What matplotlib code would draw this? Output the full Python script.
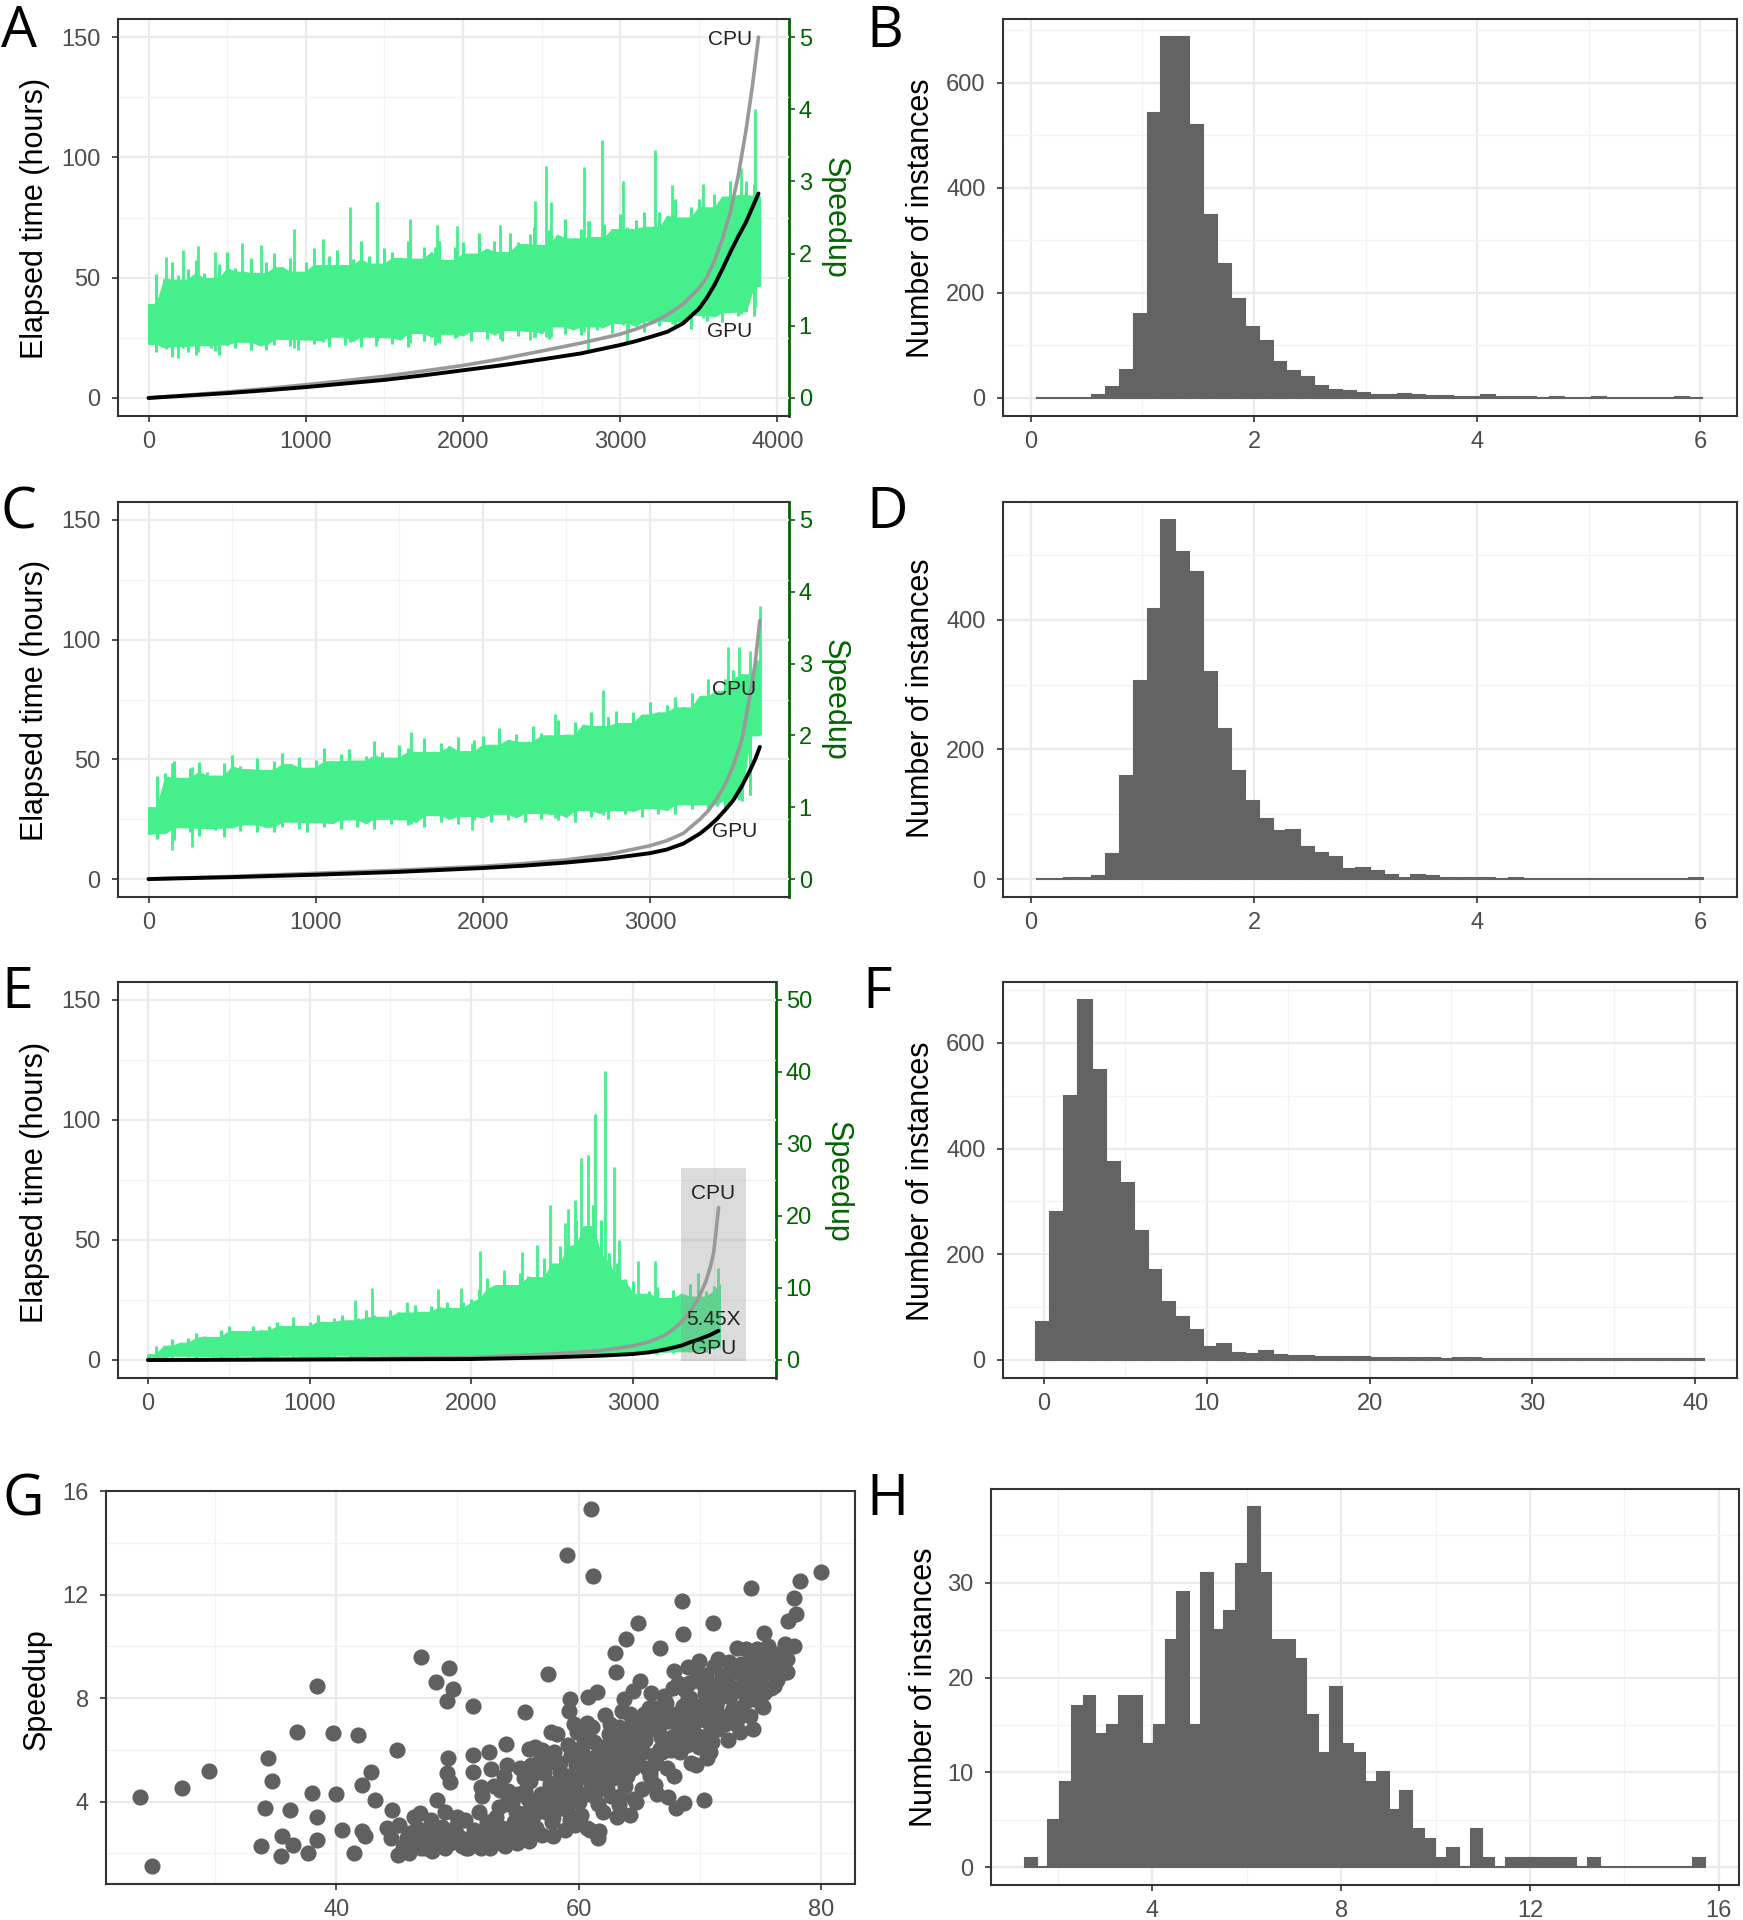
import numpy as np
import matplotlib
matplotlib.use("Agg")
import matplotlib.pyplot as plt
from matplotlib.ticker import MultipleLocator

plt.rcParams['font.family'] = ['Liberation Sans', 'DejaVu Sans']

# ---------------- panel A (elapsed time + speedup) ----------------
a_idx = [0, 250, 500, 750, 1000, 1250, 1500, 1750, 2000, 2250, 2500, 2750, 3000, 3100, 3200, 3300,
         3400, 3500, 3550, 3600, 3650, 3700, 3750, 3800, 3840, 3880]
a_gpu = [0, 1.0, 2.0, 3.2, 4.5, 6.0, 7.5, 9.4, 11.5, 13.6, 16.0, 18.5, 22.0, 23.6, 25.5, 27.5,
         31.0, 37.0, 41.5, 47.0, 53.5, 60.5, 67.0, 73.0, 79.0, 85.0]
a_cpu = [0, 1.2, 2.5, 3.9, 5.5, 7.2, 9.0, 11.2, 13.5, 16.3, 19.5, 22.8, 26.5, 28.6, 31.2, 34.5,
         39.0, 45.5, 50.0, 57.0, 66.0, 77.0, 92.0, 111.0, 129.0, 150.0]

# speedup trace, read every 50 instances: upper and lower reach of the noisy line
a_band_x = list(range(0, 3900, 50)) + [3880]
a_band_hi = [1.30, 1.72, 1.65, 1.89, 1.64, 1.78, 1.91, 1.73, 1.66, 1.86, 2.02, 1.80, 1.75, 1.94, 1.73, 1.88,
             2.01, 1.81, 1.94, 1.75, 1.89, 2.08, 1.84, 1.96, 2.05, 1.84, 1.92, 2.18, 1.96, 1.86, 2.08, 2.02,
             1.94, 2.17, 1.93, 2.09, 2.02, 2.18, 1.91, 2.09, 2.16, 2.00, 2.28, 2.07, 2.17, 2.02, 2.29, 2.16,
             2.13, 2.37, 2.12, 2.32, 2.26, 2.48, 2.21, 2.34, 2.45, 2.23, 2.41, 2.34, 2.55, 2.34, 2.46, 2.57,
             2.37, 2.58, 2.52, 2.75, 2.50, 2.65, 2.76, 2.64, 2.82, 2.79, 3.01, 2.81, 3.00, 2.97, 2.80]
a_band_lo = [0.75, 0.64, 0.70, 0.57, 0.72, 0.64, 0.60, 0.73, 0.69, 0.59, 0.74, 0.69, 0.78, 0.67, 0.74, 0.66,
             0.74, 0.82, 0.72, 0.66, 0.81, 0.75, 0.80, 0.71, 0.85, 0.74, 0.79, 0.71, 0.85, 0.78, 0.84, 0.75,
             0.81, 0.71, 0.90, 0.79, 0.85, 0.76, 0.89, 0.83, 0.87, 0.79, 0.93, 0.82, 0.88, 0.79, 0.94, 0.86,
             0.93, 0.84, 0.90, 0.81, 0.99, 0.89, 0.95, 0.87, 0.99, 0.94, 0.99, 0.90, 1.04, 0.94, 1.00, 0.92,
             1.07, 1.00, 1.07, 0.99, 1.05, 0.96, 1.15, 1.06, 1.13, 1.05, 1.19, 1.14, 1.20, 1.13, 1.55]
a_up_x = [109, 221, 313, 422, 594, 713, 924, 1111, 1279, 1452, 1663, 1838, 1965, 2236, 2457,
          2531, 2559, 2770, 2882, 3016, 3220, 3332, 3525, 3771, 3859]
a_up_y = [1.95, 2.05, 2.10, 2.02, 2.15, 2.12, 2.34, 2.20, 2.65, 2.71, 2.48, 2.40, 2.38, 2.40, 2.73,
          3.22, 2.71, 3.20, 3.57, 3.01, 3.43, 2.95, 2.96, 3.18, 4.01]
a_dn_x = [186, 1445, 1821, 2429, 2798, 3044]
a_dn_y = [0.55, 0.72, 0.74, 0.80, 0.62, 0.76]

# ---------------- panel C ----------------
c_idx = [0, 500, 1000, 1500, 2000, 2250, 2500, 2750, 3000, 3100, 3200, 3300, 3350, 3400, 3450,
         3500, 3550, 3600, 3630, 3658]
c_gpu = [0, 0.8, 1.8, 3.0, 4.6, 5.6, 6.9, 8.5, 10.8, 12.3, 14.8, 19.0, 21.8, 25.0, 28.8,
         33.0, 38.8, 45.5, 50.0, 55.2]
c_cpu = [0, 1.1, 2.4, 3.7, 5.3, 6.5, 8.0, 10.3, 13.9, 16.0, 19.1, 25.0, 28.6, 33.5, 39.5,
         47.5, 58.0, 77.0, 90.0, 108.0]

c_band_x = list(range(0, 3700, 50))
c_band_hi = [1.00, 1.43, 1.47, 1.64, 1.41, 1.54, 1.63, 1.49, 1.44, 1.61, 1.73, 1.57, 1.53, 1.69, 1.52, 1.65,
             1.75, 1.60, 1.70, 1.55, 1.66, 1.82, 1.64, 1.74, 1.81, 1.65, 1.72, 1.92, 1.77, 1.69, 1.87, 1.82,
             1.77, 1.96, 1.77, 1.90, 1.85, 1.98, 1.78, 1.93, 1.99, 1.87, 2.10, 1.94, 2.02, 1.91, 2.13, 2.04,
             2.00, 2.21, 2.01, 2.18, 2.15, 2.33, 2.13, 2.25, 2.34, 2.17, 2.33, 2.29, 2.46, 2.32, 2.43, 2.54,
             2.39, 2.59, 2.55, 2.78, 2.62, 2.79, 2.91, 2.85, 3.04, 3.05]
c_band_lo = [0.63, 0.56, 0.64, 0.55, 0.72, 0.65, 0.60, 0.71, 0.68, 0.59, 0.72, 0.67, 0.76, 0.66, 0.73, 0.65,
             0.72, 0.80, 0.70, 0.66, 0.79, 0.73, 0.78, 0.70, 0.83, 0.73, 0.78, 0.70, 0.84, 0.76, 0.83, 0.75,
             0.80, 0.72, 0.89, 0.79, 0.84, 0.76, 0.88, 0.82, 0.86, 0.79, 0.91, 0.82, 0.86, 0.79, 0.92, 0.84,
             0.91, 0.82, 0.87, 0.80, 0.96, 0.86, 0.92, 0.84, 0.96, 0.90, 0.95, 0.87, 0.99, 0.90, 0.96, 0.90,
             1.04, 0.97, 1.04, 0.98, 1.04, 0.99, 1.12, 1.09, 1.17, 2.00]
c_up_x = [1571, 2435, 2718, 3465, 3532, 3598, 3658]
c_up_y = [2.05, 2.30, 2.63, 3.23, 3.23, 3.18, 3.80]
c_dn_x = [143, 259, 1937, 2751, 3399]
c_dn_y = [0.41, 0.45, 0.68, 0.90, 1.02]

# ---------------- panel E ----------------
e_idx = [0, 1000, 2000, 2500, 2800, 3000, 3100, 3200, 3250, 3300, 3350, 3400, 3450, 3480, 3500, 3530]
e_gpu = [0, 0.2, 0.4, 1.1, 1.8, 2.5, 3.2, 4.4, 5.2, 6.0, 7.3, 8.4, 9.7, 10.5, 11.2, 12.2]
e_cpu = [0, 0.4, 1.1, 2.5, 3.9, 5.9, 7.6, 10.4, 12.8, 15.8, 19.8, 25.0, 32.5, 39.0, 45.0, 63.5]

e_band_x = list(range(0, 3550, 50)) + [3530]
e_band_hi = [0.8, 2.0, 2.0, 2.9, 2.4, 3.1, 3.8, 3.3, 3.2, 4.1, 4.7, 4.0, 4.0, 4.7, 4.1, 4.7,
             5.3, 4.7, 5.3, 4.7, 5.3, 6.2, 5.3, 5.9, 6.3, 5.5, 5.9, 7.0, 6.3, 6.0, 6.9, 6.7,
             6.6, 7.6, 6.7, 7.5, 7.3, 8.1, 7.2, 8.0, 8.5, 9.9, 11.4, 10.4, 11.2, 10.4, 12.1, 11.6,
             11.5, 14.2, 13.4, 15.8, 16.0, 19.5, 18.6, 21.5, 19.5, 14.8, 13.5, 11.3, 11.0, 9.2, 9.6, 10.1,
             8.6, 9.7, 9.2, 10.5, 8.8, 9.6, 10.3, 10.5]
e_band_lo = [0.0, 0.3, 0.4, 0.3, 0.6, 0.4, 0.25, 0.55, 0.45, 0.2, 0.5, 0.35, 0.6, 0.3, 0.48, 0.25,
             0.44, 0.62, 0.36, 0.24, 0.58, 0.43, 0.54, 0.34, 0.63, 0.40, 0.51, 0.31, 0.63, 0.45, 0.60, 0.40,
             0.52, 0.29, 0.70, 0.46, 0.59, 0.38, 0.66, 0.52, 0.63, 0.44, 0.73, 0.50, 0.63, 0.42, 0.75, 0.58,
             0.73, 0.52, 0.67, 0.44, 0.85, 0.62, 0.75, 0.54, 0.85, 0.72, 0.84, 0.67, 0.98, 0.80, 0.96, 0.80,
             1.16, 1.03, 1.22, 1.05, 1.24, 1.07, 1.50, 1.80]
e_up_x = [900, 1282, 1385, 1600, 1797, 1935, 2055, 2200, 2313, 2409, 2485, 2580, 2600, 2639, 2680, 2725,
          2766, 2828, 2880, 2914, 3034, 3137, 3405, 3526]
e_up_y = [6.0, 8.4, 10.0, 8.0, 9.8, 10.0, 15.1, 12.5, 15.0, 16.0, 21.5, 19.0, 21.0, 22.2, 28.0, 28.5,
          34.2, 40.2, 26.8, 16.7, 13.7, 13.7, 12.1, 12.8]

# ---------------- histograms B, D, F, H ----------------
b_counts = [0, 0, 0, 0, 5, 21, 54, 159, 542, 687, 687, 520, 349, 255, 188, 135, 109, 69, 51, 40,
            22, 15, 13, 10, 6, 5, 8, 5, 4, 4, 2, 2, 5, 1, 1, 1, 0, 1, 0, 0,
            1, 0, 0, 0, 0, 0, 1, 0]
d_counts = [0, 0, 2, 2, 4, 39, 159, 306, 417, 554, 504, 473, 319, 231, 166, 121, 92, 74, 76, 50,
            40, 34, 15, 17, 12, 7, 2, 6, 4, 1, 2, 1, 1, 0, 1, 0, 0, 0, 0, 0,
            0, 0, 0, 0, 0, 0, 0, 1]
f_counts = [71, 280, 499, 681, 549, 375, 334, 244, 171, 110, 82, 57, 24, 30, 13, 11, 17, 9, 8, 8,
            5, 5, 6, 5, 3, 3, 3, 4, 3, 2, 3, 3, 2, 2, 2, 2, 2, 1, 1, 2,
            1, 1, 2, 1, 2, 1, 1, 2]
h_counts = [1, 0, 5, 9, 17, 18, 14, 15, 18, 18, 13, 15, 24, 29, 15, 31, 25, 27, 32, 38,
            31, 24, 24, 22, 16, 12, 19, 13, 12, 9, 10, 6, 8, 4, 3, 1, 2, 0, 4, 1,
            0, 1, 1, 1, 1, 1, 1, 0, 1, 0, 0, 0, 0, 0, 0, 0, 0, 1]
b_start, b_width = 0.05, 0.1245
f_start, f_width = -0.47, 0.854
h_start, h_width = 1.30, 0.2485

# ---------------- scatter G ----------------
g_x = [23.8, 24.8, 27.3, 29.5, 34.4, 34.7, 34.1, 33.8, 35.5, 35.4,
       36.2, 36.4, 36.8, 38.0, 38.4, 38.4, 38.4, 37.7, 39.7, 40.0,
       40.5, 41.5, 41.8, 42.1, 42.9, 43.2, 42.1, 42.4, 44.2, 44.6,
       45.0, 45.1, 45.8, 46.7, 47.0, 46.9, 47.3, 48.2, 48.3, 48.7,
       49.1, 49.2, 49.4, 49.3, 49.6, 49.1, 50.0, 50.0, 50.7, 51.3,
       51.3, 51.3, 51.9, 52.4, 52.6, 52.8, 53.5, 54.0, 54.1, 54.9,
       55.6, 55.9, 56.5, 56.7, 57.2, 57.5, 57.7, 57.9, 57.9, 58.5,
       59.0, 59.0, 59.2, 59.3, 59.7, 59.9, 60.1, 60.7, 60.8, 61.0,
       61.2, 61.5, 61.7, 61.5, 62.2, 62.4, 63.0, 63.1, 63.3, 63.7,
       63.9, 64.2, 64.2, 64.5, 64.9, 65.1, 64.7, 65.6, 65.9, 66.3,
       66.7, 66.7, 67.2, 67.4, 67.9, 68.0, 68.2, 68.5, 68.6, 68.7,
       69.0, 69.5, 69.7, 69.8, 69.9, 70.3, 70.6, 71.1, 71.2, 71.3,
       71.5, 72.0, 72.4, 73.1, 73.3, 73.6, 74.0, 74.2, 74.5, 74.7,
       75.2, 75.3, 75.4, 75.6, 76.1, 76.3, 77.2, 77.3, 77.8, 77.9,
       77.8, 78.3, 80.0,
       44.5, 45.2, 45.6, 46.1, 46.4, 46.9, 47.5, 47.8, 48.2, 48.6,
       49.0, 49.4, 49.8, 50.3, 50.6, 51.0, 51.4, 51.8, 52.1, 52.5,
       52.9, 53.2, 53.6, 54.0, 54.3, 54.7, 55.0, 55.3, 55.7, 56.0,
       55.5, 56.2, 56.8, 57.3, 57.6, 58.0, 58.4, 58.8, 59.1, 59.5,
       59.8, 60.2, 60.5, 60.9, 61.2, 61.6, 61.9, 62.3, 62.6, 63.0,
       63.4, 63.7, 64.0, 64.4, 64.8, 65.2, 65.5,
       65.8, 66.2, 66.6, 67.0, 67.3, 67.7, 68.0, 68.4, 68.8, 69.1,
       69.5, 69.9, 70.2, 70.6, 71.0, 71.4, 71.8, 72.1, 72.5, 72.9,
       73.3, 73.7, 74.1, 74.5, 74.9, 75.3, 75.8, 76.4, 76.8,
       56.5, 57.8, 58.6, 59.3, 60.0, 60.7, 61.4, 62.0, 62.8, 63.2,
       63.9, 64.6, 65.0, 65.9, 66.5, 67.1, 67.9, 68.5, 69.3, 70.0,
       70.8, 71.6, 72.3, 73.0, 73.8, 74.4, 75.1, 75.9, 76.6, 77.2,
       52.0, 53.0, 53.8, 54.5, 55.2, 56.4, 57.1, 58.2, 59.6, 60.3,
       61.1, 62.1, 62.9, 63.6, 64.3, 65.4, 66.0, 66.9, 68.2, 69.0,
       70.4, 71.2, 72.6, 73.5, 74.7,
       50.9, 52.7, 53.9, 55.9, 57.0, 58.9, 60.9, 61.6, 46.0, 47.0, 49.0,
       45.5, 46.3, 47.2, 47.9, 48.8, 49.6, 50.4, 51.2, 51.9, 52.4,
       53.1, 53.7, 54.4, 54.8, 55.4, 55.8, 56.3, 56.9, 57.4, 57.9,
       58.3, 58.7, 59.2, 59.7, 60.1, 60.6, 61.0, 61.3, 61.8, 62.4,
       62.7, 63.1, 63.5, 63.8, 64.1, 64.5, 64.9, 65.3, 65.7, 66.1,
       66.4, 66.8, 67.2, 67.6, 68.1, 68.6, 68.9, 69.2, 69.6, 70.1,
       70.5, 70.9, 71.3, 71.7, 72.2, 72.7, 73.1, 73.4, 73.9, 74.3,
       74.8, 75.5, 76.0, 76.5, 77.0,
       53.4, 54.2, 55.0, 55.6, 56.1, 56.6, 57.0, 57.5, 58.1, 58.5,
       59.0, 59.4, 59.9, 60.4, 60.8, 61.3, 61.7, 62.1, 62.5, 62.9,
       63.3, 63.8, 64.2, 64.6, 65.1, 65.6, 66.0, 66.4, 66.9, 67.4,
       67.8, 68.3, 68.7, 69.1, 69.7, 70.2, 70.7, 71.1, 71.5, 71.9,
       72.4, 72.8, 73.3, 73.8, 74.2, 74.6, 75.0, 75.6, 76.2, 77.0]
g_speedup = [4.17, 1.51, 4.51, 5.18, 5.70, 4.81, 3.77, 2.27, 2.66, 1.89,
             3.68, 2.34, 6.69, 4.32, 3.42, 8.45, 2.53, 2.02, 6.66, 4.28,
             2.91, 2.02, 6.56, 4.64, 5.15, 4.06, 2.85, 2.66, 2.98, 3.68,
             6.01, 1.95, 2.59, 2.98, 9.59, 3.55, 2.21, 8.61, 4.06, 3.04,
             5.09, 5.70, 4.77, 9.16, 8.35, 7.90, 3.42, 2.72, 2.21, 7.71,
             5.15, 5.79, 4.58, 3.23, 5.92, 5.28, 4.45, 6.24, 5.41, 2.40,
             7.48, 6.02, 2.85, 5.15, 4.26, 8.92, 6.69, 2.66, 4.64, 5.15,
             3.68, 13.53, 7.52, 7.97, 3.11, 6.69, 6.05, 7.05, 8.03, 15.32,
             12.70, 8.22, 2.85, 4.70, 7.33, 5.28, 9.76, 8.99, 3.87, 7.97,
             10.27, 3.49, 6.69, 8.29, 10.91, 8.67, 4.00, 6.95, 5.15, 4.64,
             9.95, 6.05, 7.33, 4.19, 9.05, 3.75, 6.05, 11.74, 10.46, 3.94,
             7.97, 7.07, 5.41, 8.99, 9.44, 4.06, 5.67, 10.91, 9.25, 7.71,
             6.82, 8.22, 7.33, 9.95, 6.69, 8.35, 9.12, 12.25, 7.97, 9.50,
             7.65, 10.52, 9.76, 8.99, 8.48, 9.50, 8.99, 10.97, 11.87, 11.23,
             10.01, 12.51, 12.89,
             2.6, 3.1, 2.3, 2.8, 3.4, 2.4, 2.9, 3.3, 2.5, 2.8,
             3.6, 2.4, 3.0, 2.6, 3.3, 2.4, 2.9, 3.6, 2.5, 3.0,
             2.6, 3.4, 2.8, 3.9, 2.5, 3.2, 4.3, 2.7, 3.6, 4.8,
             4.9, 4.0, 5.6, 3.6, 4.7, 5.9, 3.8, 4.9, 6.2, 4.3,
             5.4, 3.5, 6.6, 4.8, 5.7, 3.9, 6.1, 4.5, 7.0, 5.2,
             4.2, 6.0, 5.0, 7.2, 5.6, 4.5, 6.4,
             7.6, 5.8, 6.9, 8.1, 5.3, 6.5, 7.4, 5.9, 8.3, 6.8,
             7.7, 6.1, 8.6, 7.1, 6.3, 7.9, 8.9, 7.0, 8.1, 9.2,
             7.6, 8.5, 7.3, 8.8, 9.6, 8.2, 9.3, 8.7, 9.8,
             3.0, 3.2, 4.4, 3.3, 4.0, 3.0, 4.4, 3.6, 4.9, 3.4,
             5.6, 4.1, 6.8, 5.0, 4.3, 6.3, 5.0, 6.4, 5.5, 7.3,
             5.9, 6.9, 6.4, 7.0, 7.9, 6.8, 7.7, 8.4, 9.2, 9.5,
             4.2, 4.6, 5.0, 4.0, 5.3, 6.1, 5.1, 6.6, 7.0, 5.9,
             6.9, 5.4, 6.3, 7.5, 6.5, 7.4, 8.2, 7.4, 8.6, 9.2,
             8.2, 8.5, 9.0, 8.9, 9.9,
             2.2, 2.2, 2.3, 2.5, 2.7, 2.9, 2.9, 2.6, 2.0, 2.2, 2.2,
             2.2, 2.6, 2.5, 2.1, 2.3, 2.7, 2.3, 2.6, 2.2, 2.7,
             2.4, 3.0, 2.9, 3.6, 3.1, 4.1, 3.5, 4.3, 3.9, 3.4,
             4.8, 4.1, 5.0, 4.6, 5.3, 4.3, 5.0, 6.3, 5.2, 6.0,
             4.2, 5.8, 6.6, 4.6, 6.1, 5.3, 7.0, 5.9, 6.9, 7.2,
             5.5, 6.5, 7.8, 6.0, 7.0, 7.7, 6.2, 8.0, 6.6, 7.7,
             8.9, 6.8, 8.3, 7.3, 8.7, 7.6, 8.3, 9.3, 8.6, 9.6,
             8.3, 9.0, 9.7, 8.9, 10.1,
             3.8, 4.4, 3.4, 4.4, 5.4, 3.8, 6.0, 5.5, 4.2, 5.5,
             4.0, 5.8, 4.9, 6.3, 5.4, 4.2, 5.9, 4.8, 6.6, 5.6,
             6.9, 5.2, 7.4, 6.0, 6.3, 5.3, 6.8, 7.6, 5.9, 7.1,
             8.4, 6.6, 7.3, 8.6, 7.1, 6.5, 8.0, 7.6, 9.5, 8.1,
             9.4, 8.4, 7.3, 9.9, 8.0, 9.3, 8.6, 10.0, 9.1, 9.0]

GREEN = '#45EF8C'
DARKGREEN = '#006400'
BAR = '#636363'
PT = '#606060'
W, H = 1743, 1920

fig = plt.figure(figsize=(W / 100, H / 100), dpi=100)


def px_axes(left, top, right, bottom):
    return fig.add_axes([left / W, 1 - bottom / H, (right - left) / W, (bottom - top) / H])


def style(ax, xmaj, xmin, ymaj, ymin):
    ax.xaxis.set_major_locator(MultipleLocator(xmaj))
    ax.xaxis.set_minor_locator(MultipleLocator(xmin))
    ax.yaxis.set_major_locator(MultipleLocator(ymaj))
    ax.yaxis.set_minor_locator(MultipleLocator(ymin))
    ax.grid(which='major', color='#EBEBEB', lw=1.6)
    ax.grid(which='minor', color='#F3F3F3', lw=0.9)
    ax.set_axisbelow(True)
    ax.tick_params(which='major', length=4.5, width=1.2, color='#333333',
                   labelsize=17, labelcolor='#4D4D4D')
    ax.tick_params(axis='y', which='major', pad=8)
    ax.tick_params(axis='x', which='major', pad=6.5)
    ax.tick_params(which='minor', length=0)
    for s in ax.spines.values():
        s.set_color('#333333')
        s.set_linewidth(1.5)


def fig_text(x, y, s, **kw):
    fig.text(x / W, 1 - y / H, s, ha='center', va='center', **kw)


def time_panel(ax, idx, cpu, gpu, bx, blo, bhi, ux, uy, dx, dy, scale, sp_ticks, xlim):
    bx = np.array(bx)
    lo = np.array(blo)
    hi = np.array(bhi)
    # solid core of the trace, then each reading as a vertical stroke
    hp = np.concatenate([hi[:1], hi, hi[-1:]])
    lp = np.concatenate([lo[:1], lo, lo[-1:]])
    core_hi = np.minimum(np.minimum(hp[:-2], hp[1:-1]), hp[2:])
    core_lo = np.maximum(np.maximum(lp[:-2], lp[1:-1]), lp[2:])
    ax.fill_between(bx, core_lo * scale, core_hi * scale, color=GREEN, lw=0.8, edgecolor=GREEN, zorder=2)
    ax.vlines(bx, lo * scale, hi * scale, color=GREEN, lw=2.2, zorder=2)
    ux = np.array(ux)
    ax.vlines(ux, np.interp(ux, bx, lo) * scale, np.array(uy) * scale, color=GREEN, lw=2.0, zorder=2)
    if len(dx):
        dx = np.array(dx)
        ax.vlines(dx, np.array(dy) * scale, np.interp(dx, bx, hi) * scale, color=GREEN, lw=2.0, zorder=2)
    ax.plot(idx, cpu, color='#999999', lw=2.6, zorder=4, solid_capstyle='round')
    ax.plot(idx, gpu, color='black', lw=2.8, zorder=5, solid_capstyle='round')
    ax.set_xlim(*xlim)
    ax.set_ylim(-7.5, 157.5)
    style(ax, 1000, 500, 50, 25)
    ax.spines['right'].set_visible(False)
    sec = ax.secondary_yaxis('right', functions=(lambda y: y / scale, lambda s: s * scale))
    sec.set_yticks(sp_ticks)
    sec.tick_params(length=4.5, width=1.2, color=DARKGREEN, labelsize=17, labelcolor=DARKGREEN, pad=2.5)
    sec.spines['right'].set_color(DARKGREEN)
    sec.spines['right'].set_linewidth(2)
    return sec


# A
axA = px_axes(118, 19, 789, 416)
time_panel(axA, a_idx, a_cpu, a_gpu, a_band_x, a_band_lo, a_band_hi, a_up_x, a_up_y, a_dn_x, a_dn_y,
           30, [0, 1, 2, 3, 4, 5], (-194, 4074))
axA.text(3698, 149, 'CPU', fontsize=15, color='#222222', ha='center', va='center', zorder=6)
axA.text(3698, 27.5, 'GPU', fontsize=15, color='#222222', ha='center', va='center', zorder=6)

# C
axC = px_axes(118, 502, 789, 897)
time_panel(axC, c_idx, c_cpu, c_gpu, c_band_x, c_band_lo, c_band_hi, c_up_x, c_up_y, c_dn_x, c_dn_y,
           30, [0, 1, 2, 3, 4, 5], (-182.5, 3832.5))
axC.text(3505, 79, 'CPU', fontsize=15, color='#222222', ha='center', va='center', zorder=6)
axC.text(3505, 19.8, 'GPU', fontsize=15, color='#222222', ha='center', va='center', zorder=6)

# E
axE = px_axes(118, 982, 776, 1378)
time_panel(axE, e_idx, e_cpu, e_gpu, e_band_x, e_band_lo, e_band_hi, e_up_x, e_up_y, [], [],
           3, [0, 10, 20, 30, 40, 50], (-185, 3885))
axE.axvspan(3300, 3700, ymin=(-0.5 + 7.5) / 165, ymax=(80 + 7.5) / 165, color='#999999', alpha=0.35, lw=0, zorder=3)
axE.text(3498, 69.5, 'CPU', fontsize=15, color='#222222', ha='center', va='center', zorder=6)
axE.text(3498, 17, '5.45X', fontsize=15, color='#222222', ha='center', va='center', zorder=6)
axE.text(3498, 4.6, 'GPU', fontsize=15, color='#222222', ha='center', va='center', zorder=6)

for yc in (218, 700, 1182):
    fig_text(35, yc, 'Elapsed time (hours)', fontsize=22, rotation=90, color='black')
for xc, yc in ((835, 218), (835, 700), (838, 1182)):
    fig_text(xc, yc, 'Speedup', fontsize=22, rotation=270, color=DARKGREEN)


def hist_panel(ax, counts, start, width, xlim, xmaj, xmin, ymaj, ymin):
    edges = start + width * np.arange(len(counts))
    ax.bar(edges, counts, width=width, align='edge', color=BAR, edgecolor=BAR, lw=1.5, zorder=2)
    ax.set_xlim(*xlim)
    top = max(counts)
    ax.set_ylim(-0.05 * top, 1.05 * top)
    style(ax, xmaj, xmin, ymaj, ymin)


axB = px_axes(1003, 19, 1737, 416)
hist_panel(axB, b_counts, b_start, b_width, (-0.25, 6.33), 2, 1, 200, 100)
axD = px_axes(1003, 502, 1737, 897)
hist_panel(axD, d_counts, b_start, b_width, (-0.25, 6.33), 2, 1, 200, 100)
axF = px_axes(1003, 982, 1737, 1378)
hist_panel(axF, f_counts, f_start, f_width, (-2.52, 42.57), 10, 5, 200, 100)
axH = px_axes(991, 1489, 1739, 1885)
hist_panel(axH, h_counts, h_start, h_width, (0.58, 16.43), 4, 2, 10, 5)

for yc in (218, 698, 1181):
    fig_text(921, yc, 'Number of instances', fontsize=22, rotation=90, color='black')
fig_text(924, 1687, 'Number of instances', fontsize=22, rotation=90, color='black')

# G
axG = px_axes(106, 1491, 855, 1884)
axG.scatter(g_x, g_speedup, s=135, color=PT, lw=0, zorder=2)
axG.set_xlim(21.0, 82.8)
axG.set_ylim(0.82, 16.0)
style(axG, 20, 10, 4, 2)
fig_text(37, 1689, 'Speedup', fontsize=22, rotation=90, color='black')

# panel letters
for letter, x, y in (('A', 1, 4), ('B', 866, 4), ('C', 1, 485), ('D', 866, 485),
                     ('E', 1, 965), ('F', 862, 965), ('G', 3, 1473), ('H', 866, 1472)):
    fig.text(x / W, 1 - y / H, letter, fontsize=41, family=['Open Sans', 'DejaVu Sans'],
             ha='left', va='top', color='black')

fig.savefig('out.png', dpi=100)
